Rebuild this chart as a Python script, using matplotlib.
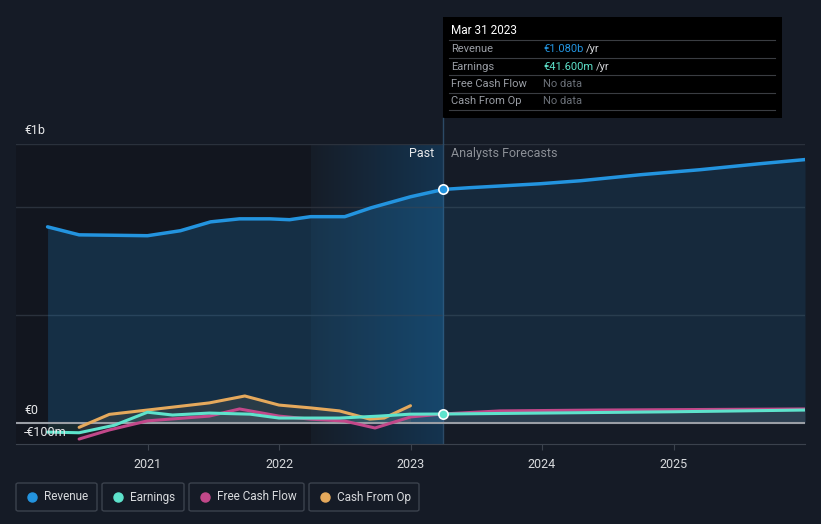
import numpy as np
import matplotlib.pyplot as plt
from matplotlib.colors import LinearSegmentedColormap
from matplotlib.patches import Rectangle, FancyBboxPatch

plt.rcParams['font.family'] = ['Roboto', 'DejaVu Sans']

# data (values in € billions, x in decimal years)
rev_x = [2020.24, 2020.48, 2020.75, 2021.0, 2021.25, 2021.48, 2021.7, 2021.93, 2022.08,
         2022.24, 2022.5, 2022.7, 2023.0, 2023.25]
rev_y = [0.907, 0.870, 0.868, 0.866, 0.889, 0.930, 0.944, 0.944, 0.940,
         0.954, 0.954, 0.995, 1.046, 1.080]
rev_fx = [2023.25, 2023.45, 2023.98, 2024.29, 2024.75, 2025.2, 2025.66, 2026.0]
rev_fy = [1.080, 1.088, 1.106, 1.120, 1.148, 1.171, 1.199, 1.218]

earn_x = [2020.24, 2020.48, 2020.75, 2021.0, 2021.19, 2021.47, 2021.78, 2022.0, 2022.46,
          2022.76, 2023.0, 2023.25]
earn_y = [-0.042, -0.045, -0.01, 0.050, 0.037, 0.046, 0.041, 0.023, 0.023,
          0.032, 0.041, 0.0416]
earn_fx = [2023.25, 2024.0, 2025.0, 2026.0]
earn_fy = [0.0416, 0.046, 0.052, 0.060]

fcf_x = [2020.48, 2020.71, 2021.0, 2021.47, 2021.7, 2022.0, 2022.24, 2022.5, 2022.73,
         2023.0, 2023.25]
fcf_y = [-0.074, -0.032, 0.010, 0.032, 0.065, 0.032, 0.018, 0.009, -0.023,
         0.028, 0.042]
fcf_fx = [2023.25, 2023.68, 2024.44, 2026.0]
fcf_fy = [0.042, 0.056, 0.060, 0.065]

cfo_x = [2020.48, 2020.71, 2021.0, 2021.47, 2021.74, 2022.0, 2022.24, 2022.46, 2022.69,
         2022.8, 2023.0]
cfo_y = [-0.020, 0.040, 0.060, 0.093, 0.125, 0.083, 0.070, 0.056, 0.018,
         0.023, 0.080]

BG = '#151b26'
BLUE = '#2394df'
TEAL = '#5ee3cc'
PINK = '#c2488a'
ORANGE = '#e5a95c'

fig = plt.figure(figsize=(8.21, 5.24), dpi=100, facecolor=BG)
ax = fig.add_axes([16 / 821, 1 - 444 / 524, 789 / 821, 300 / 524])
ax.set_facecolor(BG)
ax.set_xlim(2020.0, 2026.0)
ax.set_ylim(-0.097, 1.29)

# background regions
ax.axvspan(2020.0, 2022.24, color='#10141b', alpha=0.6, lw=0, zorder=0)
grad = np.linspace(0, 1, 256).reshape(1, -1)
ax.imshow(grad, extent=[2022.24, 2023.25, -0.097, 1.29], aspect='auto', interpolation='bilinear',
          cmap=LinearSegmentedColormap.from_list('g', ['#161d28', '#143450']), zorder=0.5)

# grid
for g in [0.5, 1.0, 1.29]:
    ax.axhline(g, color='#2a313c', lw=1, zorder=1)
ax.axhline(0, color='#9a9ea5', lw=1.5, zorder=4)

# revenue
ax.fill_between(rev_x, rev_y, 0, color=BLUE, alpha=0.2, lw=0, zorder=2)
ax.fill_between(rev_fx, rev_fy, 0, color=BLUE, alpha=0.12, lw=0, zorder=2)
ax.plot(rev_x, rev_y, color=BLUE, lw=2.5, zorder=5, solid_capstyle='round')
ax.plot(rev_fx, rev_fy, color=BLUE, lw=2.5, zorder=5, solid_capstyle='round')

# other series
for xs, ys, c in [(cfo_x, cfo_y, ORANGE), (fcf_x, fcf_y, PINK), (earn_x, earn_y, TEAL),
                  (fcf_fx, fcf_fy, PINK), (earn_fx, earn_fy, TEAL)]:
    ax.fill_between(xs, ys, 0, color=c, alpha=0.1, lw=0, zorder=3)
    ax.plot(xs, ys, color=c, lw=2.2, zorder=6, solid_capstyle='round')

# markers at the cursor date
ax.scatter([2023.25], [1.080], s=45, color=BLUE, edgecolor='white', lw=1.2, zorder=8)
ax.scatter([2023.25], [0.0416], s=45, color=TEAL, edgecolor='white', lw=1.2, zorder=8)
ax.axvline(2023.25, color='#2c4a66', lw=1, zorder=1)

# axes styling
for s in ['top', 'right', 'left']:
    ax.spines[s].set_visible(False)
ax.spines['bottom'].set_color('#3b424d')
ax.set_yticks([])
ax.set_xticks([2021, 2022, 2023, 2024, 2025])
ax.set_xticklabels(['2021', '2022', '2023', '2024', '2025'])
ax.tick_params(axis='x', colors='#3b424d', labelcolor='#d8dadd', labelsize=9, length=4, pad=6)

# y labels
fig.text(24 / 821, 1 - 131 / 524, '€1b', color='#e8e9eb', fontsize=9, va='center')
fig.text(24 / 821, 1 - 411 / 524, '€0', color='#e8e9eb', fontsize=9, va='center')
fig.text(24 / 821, 1 - 432 / 524, '-€100m', color='#e8e9eb', fontsize=9, va='center', zorder=9)

ax.text(2023.18, 1.245, 'Past', color='#e8e9eb', fontsize=9, ha='right', va='center')
ax.text(2023.31, 1.245, 'Analysts Forecasts', color='#8c9097', fontsize=9, ha='left', va='center')

# tooltip
fig.add_artist(Rectangle((443 / 821, 1 - 118 / 524), 339 / 821, 101 / 524,
                         transform=fig.transFigure, facecolor='black', edgecolor='none'))
fig.add_artist(plt.Line2D([443 / 821, 443 / 821], [1 - 144 / 524, 1 - 118 / 524],
                          transform=fig.transFigure, color='#2c4a66', lw=1))
fig.text(451 / 821, 1 - 31 / 524, 'Mar 31 2023', color='white', fontsize=8.5, va='center')
rows = [('Revenue', '€1.080b', BLUE), ('Earnings', '€41.600m', TEAL),
        ('Free Cash Flow', 'No data', None), ('Cash From Op', 'No data', None)]
renderer = fig.canvas.get_renderer()
for i, (lab, val, c) in enumerate(rows):
    y = 1 - (49 + i * 17.5) / 524
    fig.text(451 / 821, y, lab, color='#9a9ea5', fontsize=8, va='center')
    if c:
        t = fig.text(543 / 821, y, val, color=c, fontsize=8, va='center')
        w = t.get_window_extent(renderer).width
        fig.text((543 + w + 3) / 821, y, '/yr', color='#d0d2d5', fontsize=8, va='center')
    else:
        fig.text(543 / 821, y, val, color='#6b7078', fontsize=8, va='center')
    ly = 1 - (40 + i * 17.5) / 524
    fig.add_artist(plt.Line2D([449 / 821, 775 / 821], [ly, ly], transform=fig.transFigure,
                              color='#3a3d42', lw=0.8))
ly = 1 - 110 / 524
fig.add_artist(plt.Line2D([449 / 821, 775 / 821], [ly, ly], transform=fig.transFigure,
                          color='#3a3d42', lw=0.8))

# legend
legend = [('Revenue', BLUE, 16, 97), ('Earnings', TEAL, 102, 184),
          ('Free Cash Flow', PINK, 189, 304), ('Cash From Op', ORANGE, 309, 419)]
for lab, c, x0, x1 in legend:
    fig.add_artist(FancyBboxPatch((x0 / 821, 1 - 511 / 524), (x1 - x0) / 821, 28 / 524,
                                  boxstyle='round,pad=0,rounding_size=0.003',
                                  transform=fig.transFigure, facecolor='none',
                                  edgecolor='#3b424d', lw=1))
    fig.add_artist(plt.Line2D([(x0 + 16) / 821], [1 - 497 / 524], marker='o', markersize=6.5,
                              color=c, transform=fig.transFigure))
    fig.text((x0 + 28) / 821, 1 - 497 / 524, lab, color='#d8dadd', fontsize=8.5, va='center')

fig.savefig('out.png', dpi=100, facecolor=BG)
